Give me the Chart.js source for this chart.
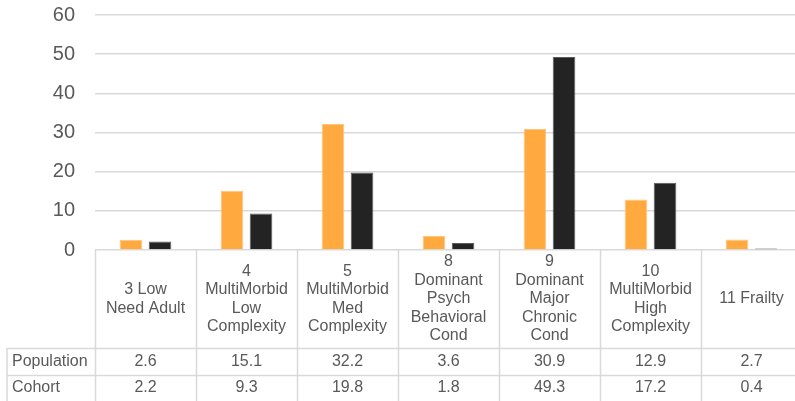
<!DOCTYPE html>
<html>
<head>
<meta charset="utf-8">
<script src="https://cdn.jsdelivr.net/npm/chart.js@4"></script>
<style>
  html, body { margin: 0; padding: 0; background: #fff; overflow: hidden; }
  #wrap { width: 810px; height: 401px; position: relative; }
</style>
</head>
<body>
<div id="wrap"><canvas id="c"></canvas></div>
<script>
// Risk groups (multi-line labels for the table header row)
const categories = [
  ['3 Low', 'Need Adult'],
  ['4', 'MultiMorbid', 'Low', 'Complexity'],
  ['5', 'MultiMorbid', 'Med', 'Complexity'],
  ['8', 'Dominant', 'Psych', 'Behavioral', 'Cond'],
  ['9', 'Dominant', 'Major', 'Chronic', 'Cond'],
  ['10', 'MultiMorbid', 'High', 'Complexity'],
  ['11 Frailty']
];
const seriesNames = ['Population', 'Cohort'];
const population = [2.6, 15.1, 32.2, 3.6, 30.9, 12.9, 2.7];
const cohort = [2.2, 9.3, 19.8, 1.8, 49.3, 17.2, 0.4];
const yTicks = [0, 10, 20, 30, 40, 50, 60];

const TEXT = '#595959';
const LINE = '#d9d9d9';
const FONT = '"Liberation Sans", Arial, sans-serif';

// Draws the data table under the plot: header cells with group names,
// then one row per series with the values.
const dataTable = {
  id: 'dataTable',
  afterDraw(chart) {
    const { ctx, chartArea, scales: { x } } = chart;
    const n = categories.length;
    const step = (chartArea.right - chartArea.left) / n;
    const top = chartArea.bottom;
    const bottom = chart.height;
    const headerBottom = top + 98;
    const rowH = 26.5;
    const leftEdge = 7;

    ctx.save();
    ctx.strokeStyle = LINE;
    ctx.lineWidth = 1.5;
    ctx.beginPath();
    for (let i = 0; i <= n; i++) {
      const bx = Math.round(chartArea.left + i * step) + 0.5;
      ctx.moveTo(bx, top);
      ctx.lineTo(bx, bottom);
    }
    ctx.moveTo(leftEdge, headerBottom);
    ctx.lineTo(leftEdge, bottom);
    for (let r = 0; r < seriesNames.length; r++) {
      const hy = Math.round(headerBottom + r * rowH) + 0.5;
      ctx.moveTo(leftEdge, hy);
      ctx.lineTo(chartArea.right, hy);
    }
    ctx.stroke();

    ctx.fillStyle = TEXT;
    ctx.font = '16px ' + FONT;
    ctx.textBaseline = 'middle';
    ctx.textAlign = 'center';
    const lh = 18.5;
    const midHeader = (top + headerBottom) / 2;
    categories.forEach((lines, i) => {
      const cx = x.getPixelForValue(i);
      const y0 = midHeader - (lines.length - 1) * lh / 2;
      lines.forEach((t, k) => ctx.fillText(t, cx, y0 + k * lh));
    });

    const rows = [population, cohort];
    rows.forEach((vals, r) => {
      const cy = headerBottom + r * rowH + rowH / 2;
      ctx.textAlign = 'left';
      ctx.fillText(seriesNames[r], 12, cy);
      ctx.textAlign = 'center';
      vals.forEach((v, i) => ctx.fillText(v.toFixed(1), x.getPixelForValue(i), cy));
    });
    ctx.restore();
  }
};

new Chart(document.getElementById('c'), {
  type: 'bar',
  data: {
    labels: categories.map(l => l.join(' ')),
    datasets: [
      {
        label: seriesNames[0],
        data: population,
        backgroundColor: '#FFA93F',
        borderColor: '#FFC57F',
        borderWidth: 1,
        categoryPercentage: 0.575,
        barPercentage: 0.78
      },
      {
        label: seriesNames[1],
        data: cohort,
        backgroundColor: '#232323',
        borderColor: '#5c5c5c',
        borderWidth: 1,
        categoryPercentage: 0.575,
        barPercentage: 0.78
      }
    ]
  },
  options: {
    responsive: true,
    maintainAspectRatio: false,
    devicePixelRatio: 1,
    animation: false,
    layout: { padding: { top: 15, right: 8, bottom: 151, left: 0 } },
    plugins: { legend: { display: false }, tooltip: { enabled: false } },
    scales: {
      x: { display: false },
      y: {
        min: 0,
        max: 60,
        afterBuildTicks(scale) { scale.ticks = yTicks.map(v => ({ value: v })); },
        afterFit(scale) { scale.width = 95; },
        border: { display: false },
        grid: { color: LINE, lineWidth: 1.5, drawTicks: true, tickLength: 20, tickColor: 'rgba(0,0,0,0)' },
        ticks: { color: TEXT, padding: 0, font: { size: 20, family: FONT, lineHeight: 1.2 } }
      }
    }
  },
  plugins: [dataTable]
});
</script>
</body>
</html>
